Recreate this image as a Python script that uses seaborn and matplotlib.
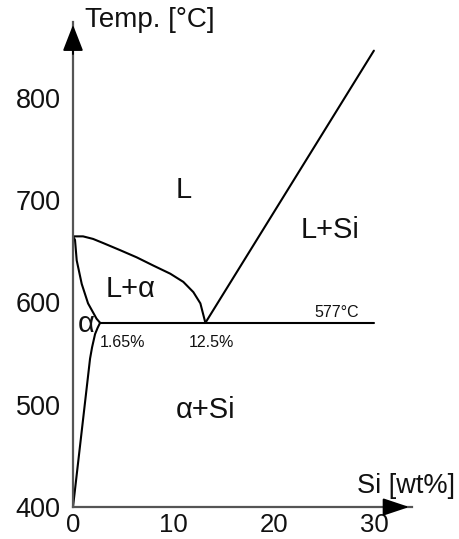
import matplotlib
matplotlib.use("Agg")
import matplotlib.pyplot as plt
import seaborn as sns
import pandas as pd

# ---- data ----
liq_al_x = [0, 1.0, 2.0, 3.0, 4.7, 6.35, 8.0, 9.7, 11.0, 12.0, 12.7, 13.2]
liq_al_y = [664.5, 664.5, 662, 658, 651, 644, 636, 628, 620, 610, 599, 580]
liq_si_x = [13.2, 30.0]
liq_si_y = [580, 846]
solidus_x = [0, 0.2, 0.37, 0.87, 1.5, 2.35, 2.7]
solidus_y = [664.5, 661, 641, 618, 599, 584, 580]
solvus_x = [2.7, 2.45, 2.2, 1.9, 1.7, 0]
solvus_y = [580, 575, 569, 556, 545, 400]
eut_x = [2.7, 30.0]
eut_y = [580, 580]

x_ticks = [0, 10, 20, 30]
y_ticks = [400, 500, 600, 700, 800]

region_labels = ["L", "L+Si", "L+α", "α", "α+Si"]
region_x = [11.0, 25.6, 5.7, 1.3, 13.2]
region_y = [710, 671, 613, 579, 495]

small_labels = ["1.65%", "12.5%", "577°C"]
small_x = [4.9, 13.8, 26.3]
small_y = [561, 561, 590]

sns.set_style("white")
plt.rcParams["font.family"] = ["Liberation Sans", "DejaVu Sans"]

fig = plt.figure(figsize=(4.59, 5.39), dpi=100)
ax = fig.add_axes([73/459, 32/539, 339/459, 485/539])

curves = [(liq_al_x, liq_al_y), (liq_si_x, liq_si_y), (solidus_x, solidus_y),
          (solvus_x, solvus_y), (eut_x, eut_y)]
for cx, cy in curves:
    df = pd.DataFrame({"x": cx, "y": cy})
    sns.lineplot(data=df, x="x", y="y", sort=False, estimator=None,
                 color="black", lw=1.5, ax=ax)

ax.set_xlim(0, 33.8)
ax.set_ylim(400, 874)
ax.set_xticks(x_ticks)
ax.set_yticks(y_ticks)
ax.set_xlabel("")
ax.set_ylabel("")
for s in ["top", "right"]:
    ax.spines[s].set_visible(False)
for s in ["left", "bottom"]:
    ax.spines[s].set_color("#555555")
    ax.spines[s].set_linewidth(1.6)
ax.tick_params(axis="both", direction="out", length=4, width=1.2,
               color="#555555", labelsize=19.5, labelcolor="#111111")
ax.tick_params(axis="y", pad=5)
ax.tick_params(axis="x", pad=0, labelsize=18.5)

# arrow heads
ax.annotate("", xy=(33.8, 400), xytext=(31.5, 400),
            arrowprops=dict(arrowstyle="-|>,head_length=0.9,head_width=0.3",
                            color="black", lw=1.4, mutation_scale=18),
            annotation_clip=False)
ax.annotate("", xy=(0, 874), xytext=(0, 840),
            arrowprops=dict(arrowstyle="-|>,head_length=0.9,head_width=0.35",
                            color="black", lw=1.4, mutation_scale=18),
            annotation_clip=False)

for t, x, y in zip(region_labels, region_x, region_y):
    ax.text(x, y, t, fontsize=21, ha="center", va="center", color="#111111")
for t, x, y in zip(small_labels, small_x, small_y):
    ax.text(x, y, t, fontsize=11.5, ha="center", va="center", color="#111111")

ax.text(1.2, 876, "Temp. [°C]", fontsize=20, ha="left", va="center",
        clip_on=False, color="#111111")
ax.text(38.1, 420.5, "Si [wt%]", fontsize=19.5, ha="right", va="center",
        clip_on=False, color="#111111")

fig.savefig("out.png", dpi=100)
